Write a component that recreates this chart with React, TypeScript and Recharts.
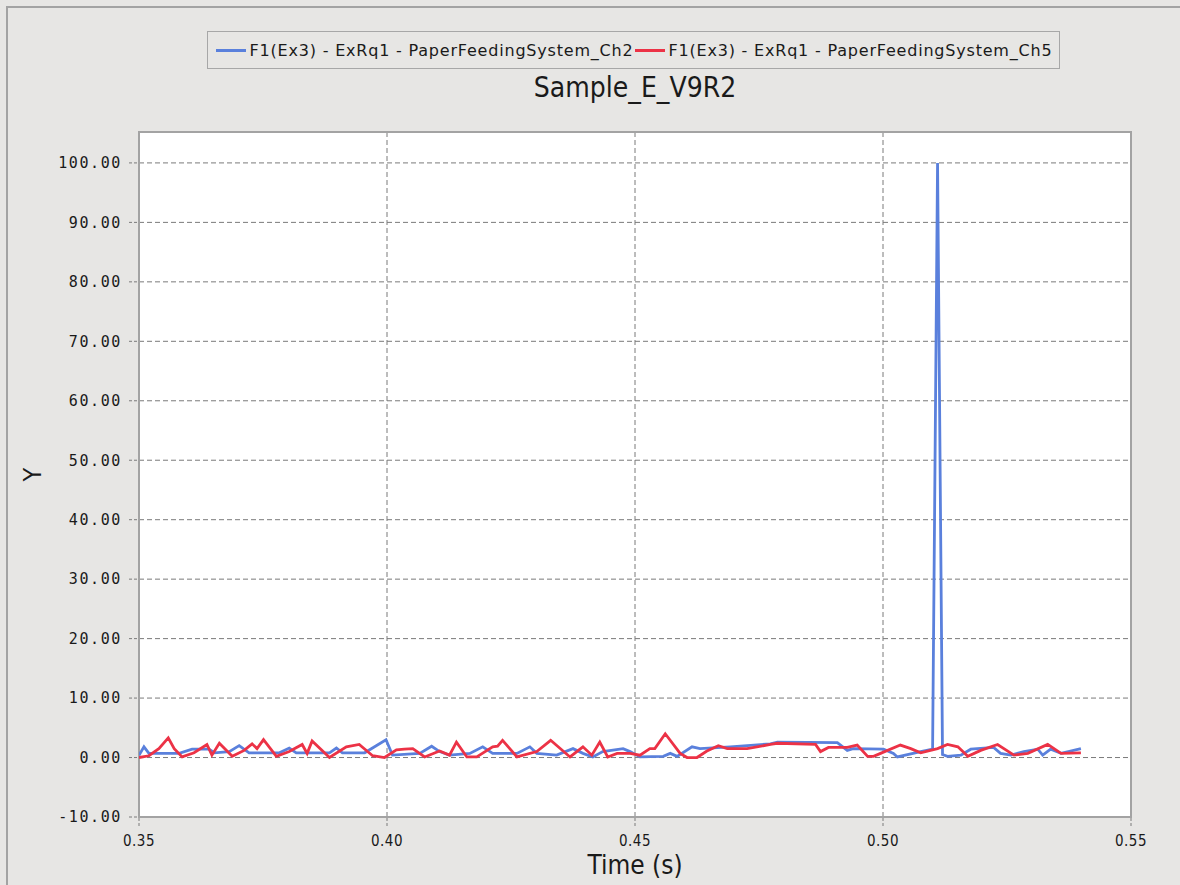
import React from "react";
import { LineChart, Line, XAxis, YAxis, CartesianGrid, Legend, ReferenceArea } from "recharts";

const seriesNames = [
  "F1(Ex3) - ExRq1 - PaperFeedingSystem_Ch2",
  "F1(Ex3) - ExRq1 - PaperFeedingSystem_Ch5",
];
const seriesColors = ["#5a80dc", "#ec3246"];

const xTicks = [0.35, 0.4, 0.45, 0.5, 0.55];
const yTicks = [-10, 0, 10, 20, 30, 40, 50, 60, 70, 80, 90, 100];

const ch2Time = [
  0.35, 0.351, 0.352, 0.3581, 0.3607, 0.3641, 0.3652, 0.3682, 0.3702, 0.3722,
  0.3783, 0.3803, 0.3817, 0.3884, 0.3898, 0.391, 0.3955, 0.3998, 0.4011, 0.4066,
  0.409, 0.4106, 0.4126, 0.4167, 0.4193, 0.4213, 0.4262, 0.4288, 0.4302, 0.4342,
  0.4375, 0.4395, 0.4415, 0.4435, 0.4476, 0.449, 0.451, 0.4557, 0.4571, 0.4585,
  0.4615, 0.4631, 0.4692, 0.4773, 0.4787, 0.4908, 0.4928, 0.494, 0.5001, 0.5021,
  0.5029, 0.5076, 0.51, 0.511, 0.512, 0.513, 0.5157, 0.5177, 0.5223, 0.5237,
  0.5258, 0.5284, 0.5312, 0.5322, 0.5338, 0.5359, 0.5399,
];
const ch2Values = [
  0.4, 1.8, 0.7, 0.7, 1.4, 1.4, 0.8, 1.0, 2.0, 0.8,
  0.8, 1.6, 0.8, 0.8, 1.6, 0.8, 0.8, 3.0, 0.4, 0.7,
  1.9, 1.0, 0.4, 0.7, 1.8, 0.7, 0.7, 1.8, 0.7, 0.4,
  1.5, 0.7, 0.1, 1.0, 1.5, 1.0, 0.1, 0.2, 0.7, 0.2,
  1.8, 1.5, 1.8, 2.3, 2.6, 2.5, 1.2, 1.5, 1.4, 0.7,
  0.1, 1.0, 1.4, 100, 0.5, 0.2, 0.4, 1.4, 1.7, 0.7,
  0.4, 1.0, 1.4, 0.4, 1.4, 0.7, 1.5,
];

const ch5Time = [
  0.35, 0.352, 0.354, 0.3559, 0.3571, 0.3587, 0.3611, 0.3637, 0.3647, 0.3662,
  0.3688, 0.3712, 0.3728, 0.3738, 0.3751, 0.3777, 0.3803, 0.3829, 0.3839, 0.3849,
  0.3884, 0.3918, 0.3944, 0.3971, 0.3995, 0.4019, 0.4035, 0.4052, 0.4076, 0.4106,
  0.4126, 0.414, 0.4161, 0.4181, 0.4213, 0.4223, 0.4233, 0.4262, 0.4302, 0.433,
  0.4369, 0.4395, 0.4413, 0.4429, 0.4445, 0.4464, 0.449, 0.451, 0.453, 0.454,
  0.4561, 0.4591, 0.4605, 0.4625, 0.4645, 0.4668, 0.4686, 0.4726, 0.4773, 0.4787,
  0.4864, 0.4874, 0.489, 0.4928, 0.4948, 0.4969, 0.4981, 0.4995, 0.5035, 0.5056,
  0.5076, 0.511, 0.513, 0.5151, 0.5171, 0.5197, 0.5231, 0.5264, 0.5292, 0.5332,
  0.5359, 0.5399,
];
const ch5Values = [
  0.0, 0.3, 1.5, 3.3, 1.5, 0.1, 0.8, 2.2, 0.4, 2.4,
  0.2, 1.2, 2.3, 1.5, 3.0, 0.2, 1.0, 2.2, 0.7, 2.8,
  0.0, 1.8, 2.2, 0.3, 0.0, 1.3, 1.4, 1.5, 0.1, 1.1,
  0.4, 2.6, 0.1, 0.1, 1.8, 1.9, 2.9, 0.1, 1.0, 2.9,
  0.1, 1.8, 0.4, 2.6, 0.1, 0.7, 0.7, 0.4, 1.5, 1.5,
  4.0, 0.7, 0.0, 0.0, 1.1, 2.0, 1.5, 1.5, 2.2, 2.4,
  2.2, 1.0, 1.7, 1.7, 2.1, 0.2, 0.2, 0.7, 2.1, 1.5,
  0.8, 1.5, 2.2, 1.8, 0.2, 1.2, 2.2, 0.4, 0.7, 2.2,
  0.7, 0.8,
];

const ch2Data = ch2Time.map((t, i) => ({ t, v: ch2Values[i] }));
const ch5Data = ch5Time.map((t, i) => ({ t, v: ch5Values[i] }));

const Y_MIN = -10;
const Y_MAX = 105.2;
const X_MIN = 0.35;
const X_MAX = 0.55;

const gridColor = "#7a7a7a";
const LEGEND_H = 38;

const renderLegend = (props: any) => {
  const payload = props.payload || [];
  return (
    <div
      style={{
        border: "1px solid #a7a7a7",
        height: LEGEND_H,
        boxSizing: "border-box",
        display: "flex",
        alignItems: "center",
        justifyContent: "center",
        fontFamily: "'DejaVu Sans', sans-serif",
        fontSize: 16,
        letterSpacing: 0.8,
        color: "#1a1a1a",
        whiteSpace: "nowrap",
      }}
    >
      {payload.map((p: any, i: number) => (
        <span key={i} style={{ display: "inline-flex", alignItems: "center" }}>
          <span
            style={{
              display: "inline-block",
              width: 30,
              height: 3,
              background: p.color,
              marginRight: 4,
              marginLeft: 1,
            }}
          />
          {p.value}
        </span>
      ))}
    </div>
  );
};

const YLabel = (props: any) => {
  const vb = props.viewBox || { x: 0, y: 0, width: 0, height: 0 };
  const cx = vb.x + 32;
  const cy = vb.y + vb.height / 2;
  return (
    <text
      x={cx}
      y={cy}
      transform={`rotate(-90 ${cx} ${cy})`}
      textAnchor="middle"
      dominantBaseline="central"
      fontFamily="'DejaVu Sans Condensed', 'DejaVu Sans', sans-serif"
      fontSize={25}
      fill="#1a1a1a"
    >
      Y
    </text>
  );
};

export default function App() {
  return (
    <div
      style={{
        position: "absolute",
        left: 0,
        top: 0,
        width: 1180,
        height: 885,
        background: "#e7e6e4",
        overflow: "hidden",
      }}
    >
      <div
        style={{
          position: "absolute",
          left: 6,
          top: 6,
          width: 1200,
          height: 900,
          borderLeft: "2px solid #a3a3a3",
          borderTop: "2px solid #a3a3a3",
        }}
      />
      <div
        style={{
          position: "absolute",
          left: 139,
          width: 992,
          top: 71,
          textAlign: "center",
          fontFamily: "'DejaVu Sans Condensed', 'DejaVu Sans', sans-serif",
          fontSize: 28,
          color: "#1a1a1a",
        }}
      >
        Sample_E_V9R2
      </div>
      <LineChart
        width={1180}
        height={885}
        margin={{ top: 132 - LEGEND_H, right: 49, bottom: 0, left: 0 }}
        style={{ position: "absolute", left: 0, top: 0 }}
      >
        <CartesianGrid
          fill="#ffffff"
          stroke={gridColor}
          strokeDasharray="5 3"
          horizontalValues={yTicks}
          verticalValues={xTicks}
        />
        <XAxis
          type="number"
          dataKey="t"
          domain={[X_MIN, X_MAX]}
          ticks={xTicks}
          allowDataOverflow
          height={68}
          axisLine={false}
          tickSize={9}
          tickMargin={9}
          tickLine={{ stroke: gridColor, strokeDasharray: "3 2" }}
          tickFormatter={(v: number) => v.toFixed(2)}
          tick={{
            fontFamily: "'Liberation Sans Narrow', 'DejaVu Sans Condensed', sans-serif",
            fontSize: 15,
            fill: "#1a1a1a",
            letterSpacing: 0.5,
          }}
          label={{
            value: "Time (s)",
            position: "insideBottom",
            offset: 11,
            style: {
              fontFamily: "'DejaVu Sans Condensed', 'DejaVu Sans', sans-serif",
              fontSize: 26,
              fill: "#1a1a1a",
            },
          }}
        />
        <YAxis
          type="number"
          domain={[Y_MIN, Y_MAX]}
          ticks={yTicks}
          allowDataOverflow
          width={139}
          axisLine={false}
          tickSize={10}
          tickMargin={7}
          tickLine={{ stroke: gridColor, strokeDasharray: "3 2" }}
          tickFormatter={(v: number) => v.toFixed(2)}
          tick={{
            fontFamily: "'DejaVu Sans Mono', monospace",
            fontSize: 15,
            fill: "#1a1a1a",
            letterSpacing: 1.6,
          }}
          label={<YLabel />}
        />
        <ReferenceArea
          x1={X_MIN}
          x2={X_MAX}
          y1={Y_MIN}
          y2={Y_MAX}
          fill="none"
          stroke="#a3a3a3"
          strokeWidth={2}
          ifOverflow="visible"
        />
        <Legend
          verticalAlign="top"
          content={renderLegend}
          wrapperStyle={{ position: "absolute", top: 31, left: 207, width: 853, height: LEGEND_H }}
        />
        <Line
          data={ch2Data}
          dataKey="v"
          name={seriesNames[0]}
          type="linear"
          stroke={seriesColors[0]}
          strokeWidth={2.8}
          dot={false}
          isAnimationActive={false}
        />
        <Line
          data={ch5Data}
          dataKey="v"
          name={seriesNames[1]}
          type="linear"
          stroke={seriesColors[1]}
          strokeWidth={2.8}
          dot={false}
          isAnimationActive={false}
        />
      </LineChart>
    </div>
  );
}
